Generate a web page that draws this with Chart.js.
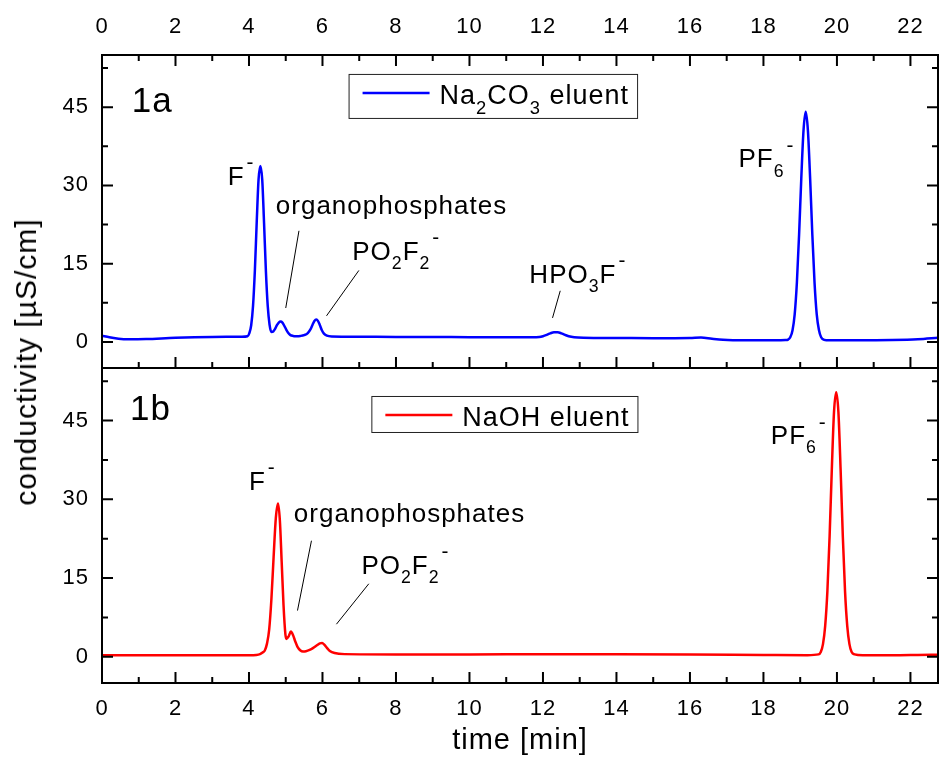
<!DOCTYPE html>
<html>
<head>
<meta charset="utf-8">
<script src="https://cdn.jsdelivr.net/npm/chart.js@4/dist/chart.umd.min.js"></script>
<style>
  html, body { margin: 0; padding: 0; background: #fff; }
  #wrap { position: relative; width: 940px; height: 758px; }
  #cTop { position: absolute; left: 0; top: 0; }
  #cBot { position: absolute; left: 0; top: 360px; }
  #ytitle {
    position: absolute; left: 26px; top: 362px;
    transform: translate(-50%, -50%) rotate(-90deg);
    font: 30px "Liberation Sans", Arial, sans-serif; letter-spacing: 1px;
    white-space: nowrap; color: #000;
  }
</style>
</head>
<body>
<div id="wrap">
  <canvas id="cTop" width="940" height="370"></canvas>
  <canvas id="cBot" width="940" height="398"></canvas>
  <div id="ytitle">conductivity [µS/cm]</div>
</div>
<script>
// tick labels
const xTicks = [0, 2, 4, 6, 8, 10, 12, 14, 16, 18, 20, 22];
const yTicks = [0, 15, 30, 45];

// 1a: Na2CO3 eluent (time in min, conductivity in µS/cm)
const timeA = [
  0, 0.2, 0.45, 0.75, 1.2, 2.0, 3.0, 3.8, 3.96, 4.01,
  4.06, 4.11, 4.16, 4.21, 4.26, 4.31, 4.36, 4.41, 4.46, 4.51,
  4.56, 4.61, 4.66, 4.71, 4.76, 4.81, 4.86, 4.91, 4.96, 5.01,
  5.06, 5.12, 5.2, 5.29, 5.4, 5.5, 5.6, 5.68, 5.73, 5.78,
  5.83, 5.88, 5.93, 5.98, 6.04, 6.12, 6.25, 7, 8, 9,
  10, 11, 11.7, 11.9, 12.0, 12.1, 12.2, 12.3, 12.4, 12.5,
  12.6, 12.7, 12.85, 13.1, 14, 15, 16, 16.3, 16.6, 16.9,
  17.5, 18.3, 18.6, 18.67, 18.73, 18.79, 18.85, 18.91, 18.97, 19.03,
  19.09, 19.15, 19.21, 19.27, 19.33, 19.39, 19.45, 19.51, 19.57, 19.65,
  19.8, 20.5, 21.5, 22.2, 22.75
];
const condA = [
  1.2, 0.9, 0.6, 0.5, 0.55, 0.8, 0.95, 1.0, 1.1, 1.7,
  3.2, 6.9, 13.7, 22.9, 31.1, 33.7, 31.1, 22.8, 13.6, 6.9,
  3.3, 1.9, 2.0, 2.5, 3.2, 3.7, 3.9, 3.7, 3.1, 2.4,
  1.8, 1.35, 1.15, 1.1, 1.15, 1.3, 1.7, 2.5, 3.3, 4.0,
  4.3, 4.0, 3.2, 2.3, 1.6, 1.2, 1.05, 1.0, 0.95, 0.95,
  0.9, 0.9, 0.9, 0.95, 1.1, 1.35, 1.65, 1.85, 1.85, 1.65,
  1.35, 1.1, 0.9, 0.8, 0.75, 0.7, 0.75, 0.85, 0.6, 0.4,
  0.3, 0.3, 0.35, 0.45, 0.9, 2.2, 5.3, 11.4, 20.6, 31.4,
  40.5, 44.1, 40.5, 31.4, 20.6, 11.4, 5.3, 2.3, 0.9, 0.4,
  0.3, 0.3, 0.35, 0.5, 0.8
];

// 1b: NaOH eluent
const timeB = [
  0, 1, 2, 3, 4, 4.2, 4.3, 4.37, 4.43, 4.49,
  4.55, 4.61, 4.67, 4.73, 4.79, 4.84, 4.89, 4.94, 4.99, 5.02,
  5.08, 5.14, 5.2, 5.26, 5.32, 5.4, 5.47, 5.55, 5.65, 5.75,
  5.85, 5.93, 5.99, 6.05, 6.12, 6.2, 6.33, 6.6, 8, 10,
  12, 14, 16, 18, 19.2, 19.5, 19.56, 19.62, 19.68, 19.74,
  19.8, 19.86, 19.92, 19.98, 20.04, 20.1, 20.16, 20.22, 20.28, 20.34,
  20.4, 20.48, 20.7, 21.5, 22.2, 22.75
];
const condB = [
  0.3, 0.3, 0.3, 0.3, 0.3, 0.35, 0.5, 0.8, 1.2, 2.5,
  5.2, 11.0, 19.0, 26.4, 29.2, 26.0, 18.0, 9.8, 4.3, 3.4,
  3.9, 4.8, 4.1, 2.9, 1.9, 1.2, 1.0, 1.05, 1.3, 1.7,
  2.2, 2.55, 2.6, 2.3, 1.7, 1.1, 0.7, 0.5, 0.45, 0.45,
  0.5, 0.5, 0.45, 0.35, 0.3, 0.45, 0.9, 2.4, 5.9, 12.5,
  22.9, 35.6, 46.6, 50.4, 46.6, 35.6, 22.9, 12.5, 5.9, 2.4,
  0.9, 0.45, 0.3, 0.3, 0.35, 0.4
];

const X_MAX = 22.75;
const Y_MIN = -5, Y_MAX = 55;
const FONT = "'Liberation Sans', Arial, sans-serif";

// text annotations, placed in data coordinates
const notesA = [
  { t: 0.81, v: 44.1, size: 35, parts: [['1a']] },
  { t: 3.42, v: 30.1, size: 26, parts: [['F'], ['-', 'sup']] },
  { t: 4.73, v: 24.5, size: 26, parts: [['organophosphates']] },
  { t: 6.81, v: 15.7, size: 26, parts: [['PO'], ['2', 'sub'], ['F'], ['2', 'sub'], ['-', 'sup']] },
  { t: 11.63, v: 11.3, size: 26, parts: [['HPO'], ['3', 'sub'], ['F'], ['-', 'sup']] },
  { t: 17.32, v: 33.5, size: 26, parts: [['PF'], ['6', 'sub'], ['-', 'sup']] }
];
const leadersA = [
  [5.36, 21.3, 5.0, 6.5],
  [6.99, 13.7, 6.11, 5.0],
  [12.47, 9.8, 12.26, 4.6]
];
const notesB = [
  { t: 0.76, v: 45.1, size: 35, parts: [['1b']] },
  { t: 4.0, v: 31.8, size: 26, parts: [['F'], ['-', 'sup']] },
  { t: 5.22, v: 25.7, size: 26, parts: [['organophosphates']] },
  { t: 7.06, v: 15.8, size: 26, parts: [['PO'], ['2', 'sub'], ['F'], ['2', 'sub'], ['-', 'sup']] },
  { t: 18.2, v: 40.5, size: 26, parts: [['PF'], ['6', 'sub'], ['-', 'sup']] }
];
const leadersB = [
  [5.70, 22.1, 5.32, 8.8],
  [7.26, 13.9, 6.38, 6.2]
];
const legendA = { t: 6.71, v: 51.37, h: 44, parts: [['Na'], ['2', 'sub'], ['CO'], ['3', 'sub'], [' eluent']] };
const legendB = { t: 7.33, v: 49.67, h: 36, parts: [['NaOH eluent']] };

function drawRich(ctx, x, y, parts, size) {
  let cx = x;
  parts.forEach(([txt, kind]) => {
    let s = size, dy = 0;
    if (kind === 'sub') { s = size * 0.68; dy = size * 0.36; }
    if (kind === 'sup') { s = size * 0.8; dy = -size * 0.6; cx += 2; }
    ctx.font = s + 'px ' + FONT;
    ctx.fillText(txt, cx, y + dy);
    cx += ctx.measureText(txt).width;
  });
  return cx - x;
}

// frame, inward ticks, labels and the legend box
const panelPlugin = {
  id: 'panel',
  beforeDraw(chart) {
    chart.ctx.letterSpacing = '1px';
  },
  afterDraw(chart, args, opts) {
    const { ctx, chartArea: a, scales } = chart;
    const sx = scales.x, sy = scales.y;
    ctx.save();
    ctx.strokeStyle = '#000';
    ctx.lineWidth = 2;
    ctx.strokeRect(a.left, a.top, a.right - a.left, a.bottom - a.top);

    const xt = [];
    xTicks.forEach(v => { xt.push([v, 11]); if (v + 1 < X_MAX) xt.push([v + 1, 6]); });
    const yt = [];
    yTicks.forEach(v => { yt.push([v, 11]); if (v + 7.5 < Y_MAX) yt.push([v + 7.5, 6]); });
    ctx.beginPath();
    xt.forEach(([v, len]) => {
      const px = sx.getPixelForValue(v);
      if (opts.sides.top) { ctx.moveTo(px, a.top); ctx.lineTo(px, a.top + len); }
      if (opts.sides.bottom) { ctx.moveTo(px, a.bottom); ctx.lineTo(px, a.bottom - len); }
    });
    yt.forEach(([v, len]) => {
      const py = sy.getPixelForValue(v);
      ctx.moveTo(a.left, py); ctx.lineTo(a.left + len, py);
      ctx.moveTo(a.right, py); ctx.lineTo(a.right - len, py);
    });
    ctx.stroke();

    // leader lines
    ctx.lineWidth = 1;
    ctx.beginPath();
    opts.leaders.forEach(([t1, v1, t2, v2]) => {
      ctx.moveTo(sx.getPixelForValue(t1), sy.getPixelForValue(v1));
      ctx.lineTo(sx.getPixelForValue(t2), sy.getPixelForValue(v2));
    });
    ctx.stroke();

    // labels
    ctx.fillStyle = '#000';
    ctx.textAlign = 'left';
    ctx.textBaseline = 'alphabetic';
    opts.notes.forEach(n => {
      drawRich(ctx, sx.getPixelForValue(n.t), sy.getPixelForValue(n.v), n.parts, n.size);
    });

    // legend
    const lg = opts.legend;
    const lx = sx.getPixelForValue(lg.t), ly = sy.getPixelForValue(lg.v);
    const probe = document.createElement('canvas').getContext('2d');
    probe.letterSpacing = '1px';
    let tw = 0;
    lg.parts.forEach(([txt, kind]) => {
      probe.font = (kind ? 27 * 0.68 : 27) + 'px ' + FONT;
      tw += probe.measureText(txt).width;
    });
    const w = 91 + tw + 8;
    ctx.fillStyle = '#fff';
    ctx.fillRect(lx, ly, w, lg.h);
    ctx.strokeStyle = '#222';
    ctx.lineWidth = 1;
    ctx.strokeRect(lx + 0.5, ly + 0.5, w, lg.h);
    ctx.strokeStyle = opts.color;
    ctx.lineWidth = 2.5;
    ctx.beginPath();
    ctx.moveTo(lx + 14, ly + 19);
    ctx.lineTo(lx + 81, ly + 19);
    ctx.stroke();
    ctx.fillStyle = '#000';
    drawRich(ctx, lx + 91, ly + 30.5, lg.parts, 27);
    ctx.restore();
  }
};

function makePanel(canvasId, times, vals, color, isTop) {
  const pts = times.map((t, i) => ({ x: t, y: vals[i] }));
  new Chart(document.getElementById(canvasId), {
    type: 'line',
    data: {
      datasets: [{
        data: pts,
        borderColor: color,
        borderWidth: 2.5,
        pointRadius: 0,
        cubicInterpolationMode: 'monotone',
        fill: false
      }]
    },
    options: {
      responsive: false,
      animation: false,
      events: [],
      layout: { padding: isTop ? { top: 0, right: 2, bottom: 2, left: 0 } : { top: 8, right: 2, bottom: 0, left: 0 } },
      scales: {
        x: {
          type: 'linear',
          position: isTop ? 'top' : 'bottom',
          min: 0, max: X_MAX,
          grid: { display: false, drawTicks: false },
          border: { display: false },
          ticks: { color: '#000', font: { size: 22, family: FONT }, padding: isTop ? 15 : 13, maxRotation: 0 },
          title: { display: !isTop, text: 'time [min]', color: '#000', font: { size: 29, family: FONT }, padding: 0 },
          afterBuildTicks: s => { s.ticks = xTicks.map(v => ({ value: v })); },
          afterFit: s => { s.height = isTop ? 55 : 75; s.paddingLeft = 0; s.paddingRight = 0; }
        },
        y: {
          min: Y_MIN, max: Y_MAX,
          grid: { display: false, drawTicks: false },
          border: { display: false },
          ticks: { color: '#000', font: { size: 22, family: FONT }, padding: 13 },
          afterBuildTicks: s => { s.ticks = yTicks.map(v => ({ value: v })); },
          afterFit: s => { s.width = 102; s.paddingTop = 0; s.paddingBottom = 0; }
        }
      },
      plugins: {
        legend: { display: false },
        tooltip: { enabled: false },
        panel: {
          sides: { top: isTop, bottom: true },
          notes: isTop ? notesA : notesB,
          leaders: isTop ? leadersA : leadersB,
          legend: isTop ? legendA : legendB,
          color: color
        }
      }
    },
    plugins: [panelPlugin]
  });
}

makePanel('cTop', timeA, condA, '#0000ff', true);
makePanel('cBot', timeB, condB, '#ff0000', false);
</script>
</body>
</html>
